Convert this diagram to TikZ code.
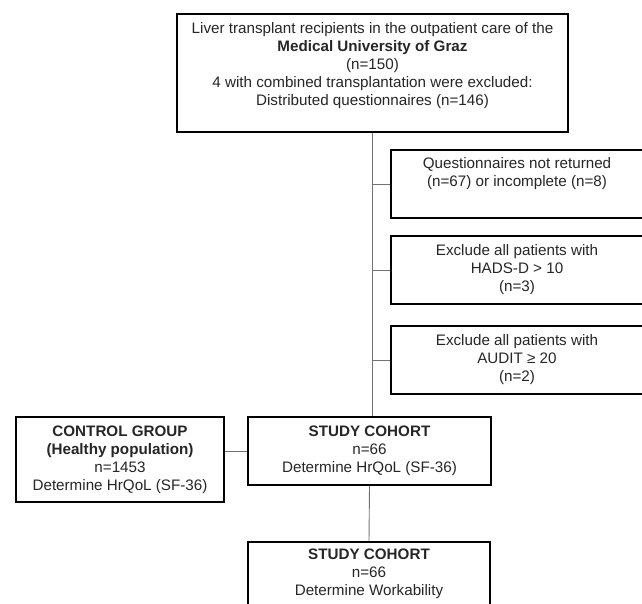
\documentclass[tikz,border=0pt]{standalone}
\usepackage{fontspec}
\setmainfont{Liberation Sans}
\begin{document}
\begin{tikzpicture}[x=1pt,y=-1pt]
\tikzset{
  boxnode/.style={draw=black, line width=2.2pt, rectangle, inner sep=0pt, fill=white},
  txt/.style={align=center, inner sep=0pt, text=black!85, font=\fontsize{15.2pt}{18pt}\selectfont},
  conn/.style={draw=black!55, line width=0.9pt}
}
\clip (0,0) rectangle (642,604);
\fill[white] (0,0) rectangle (642,604);
% boxes
\node[boxnode, minimum width=391pt, minimum height=118pt] (top) at (372.5,73) {};
\node[boxnode, minimum width=254pt, minimum height=68pt] (r1) at (518,184) {};
\node[boxnode, minimum width=254pt, minimum height=68pt] (r2) at (518,270) {};
\node[boxnode, minimum width=254pt, minimum height=68pt] (r3) at (518,360) {};
\node[boxnode, minimum width=208pt, minimum height=85pt] (ctrl) at (120,459.5) {};
\node[boxnode, minimum width=243pt, minimum height=68pt] (sc1) at (369.5,451) {};
\node[boxnode, minimum width=242pt, minimum height=84pt] (sc2) at (369,584) {};
% texts
\node[txt] (ttop) at (372.5,66) {Liver transplant recipients in the outpatient care of the\\ \textbf{Medical University of Graz}\\ (n=150)\\ 4 with combined transplantation were excluded:\\ Distributed questionnaires (n=146)};
\node[txt] (tr1) at (517,174) {Questionnaires not returned\\ (n=67) or incomplete (n=8)};
\node[txt] (tr2) at (517,270) {Exclude all patients with\\ HADS-D > 10\\ (n=3)};
\node[txt] (tr3) at (517,360) {Exclude all patients with\\ AUDIT ≥ 20\\ (n=2)};
\node[txt] (tctrl) at (120,459.5) {\textbf{CONTROL GROUP}\\ \textbf{(Healthy population)}\\ n=1453\\ Determine HrQoL (SF-36)};
\node[txt] (tsc1) at (369.5,450.5) {\textbf{STUDY COHORT}\\ n=66\\ Determine HrQoL (SF-36)};
\node[txt] (tsc2) at (369,574) {\textbf{STUDY COHORT}\\ n=66\\ Determine Workability};
% connectors
\draw[conn] (top.south) -- (top.south |- sc1.north);
\draw[conn] (top.south |- r1.west) -- (r1.west);
\draw[conn] (top.south |- r2.west) -- (r2.west);
\draw[conn] (top.south |- r3.west) -- (r3.west);
\draw[conn] (sc1.west) -- (sc1.west -| ctrl.east);
\draw[conn] (sc1.south) -- (sc2.north);
\end{tikzpicture}
\end{document}
